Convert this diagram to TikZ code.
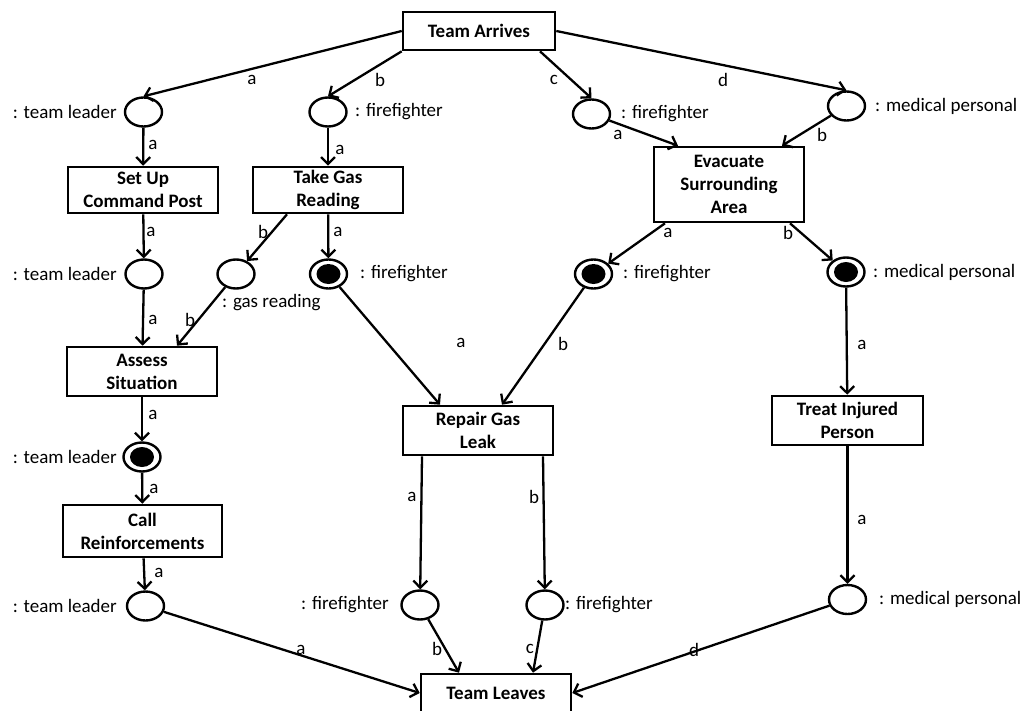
\documentclass[tikz,border=0pt]{standalone}
\usepackage{fontspec}
\setmainfont{Carlito}
\usetikzlibrary{arrows.meta,shapes.geometric,calc}
\begin{document}
\begin{tikzpicture}[x=1pt,y=-1pt,
  every node/.style={font=\fontsize{19}{23}\selectfont},
  trans/.style={draw, line width=2.6pt, minimum width=150pt, align=center, inner sep=2pt, font=\fontsize{19}{23}\selectfont\bfseries},
  place/.style={ellipse, draw, line width=2.4pt, minimum width=37pt, minimum height=29pt, inner sep=0pt},
  marked/.style={place, path picture={\fill (path picture bounding box.center) ellipse [x radius=12pt, y radius=10pt];}},
  arc/.style={line width=2.3pt, -{Straight Barb[length=7pt,width=14pt]}},
  lab/.style={inner sep=0pt},
  tag/.style={inner sep=0pt}
]
\clip (0,0) rectangle (1026,710);
\fill[white] (0,0) rectangle (1026,710);

% transitions
\node[trans, minimum width=152pt, minimum height=38pt] (ta) at (479,31) {Team Arrives};
\node[trans, minimum height=46pt] (su) at (143,190) {Set Up\\Command Post};
\node[trans, minimum height=46pt] (tg) at (328,190) {Take Gas\\Reading};
\node[trans, minimum height=75pt] (ev) at (729,184.5) {Evacuate\\Surrounding\\Area};
\node[trans, minimum height=49pt] (as) at (142,371.5) {Assess\\Situation};
\node[trans, minimum height=49pt] (rp) at (478,430.5) {Repair Gas\\Leak};
\node[trans, minimum width=151pt, minimum height=49pt] (ti) at (847.5,420.5) {Treat Injured\\Person};
\node[trans, minimum width=159pt, minimum height=52pt] (cr) at (142.5,531) {Call\\Reinforcements};
\node[trans, minimum height=38pt] (tlv) at (496,693) {Team Leaves};

% places
\node[place] (tl1) at (143.5,112) {};
\node[place] (ff1) at (328,112) {};
\node[place] (ff2) at (591.5,114) {};
\node[place] (mp1) at (846.5,106) {};
\node[place] (tl2) at (144,274) {};
\node[place] (gas) at (236,274) {};
\node[marked] (ff3) at (328.5,274) {};
\node[marked] (ff4) at (593.5,274) {};
\node[marked] (mp2) at (846,272) {};
\node[marked] (tl3) at (142,457) {};
\node[place] (tl4) at (145.5,606) {};
\node[place] (ff5) at (420,605) {};
\node[place] (ff6) at (545,605) {};
\node[place] (mp3) at (847.5,599.5) {};

% place labels
\node[tag, anchor=east] (tl1t) at (117,112) {: team leader};
\node[tag, anchor=west] (ff1t) at (355,112) {: firefighter};
\node[tag, anchor=west] (ff2t) at (621,114) {: firefighter};
\node[tag, anchor=west] (mp1t) at (875,106) {: medical personal};
\node[tag, anchor=east] (tl2t) at (117,274) {: team leader};
\node[tag, anchor=west] (gast) at (222,303) {: gas reading};
\node[tag, anchor=west] (ff3t) at (360,274) {: firefighter};
\node[tag, anchor=west] (ff4t) at (623,274) {: firefighter};
\node[tag, anchor=west] (mp2t) at (873,272) {: medical personal};
\node[tag, anchor=east] (tl3t) at (117,457) {: team leader};
\node[tag, anchor=east] (tl4t) at (117,606) {: team leader};
\node[tag, anchor=east] (ff5t) at (389,605) {: firefighter};
\node[tag, anchor=west] (ff6t) at (565,605) {: firefighter};
\node[tag, anchor=west] (mp3t) at (879,599.5) {: medical personal};

% arcs
\draw[arc] (ta.west) -- (tl1.north);
\draw[arc] (ta.south west) -- (ff1.north);
\draw[arc] ([xshift=61pt]ta.south) -- (ff2.north);
\draw[arc] (ta.east) -- (mp1.north);
\draw[arc] (tl1) -- (su);
\draw[arc] (ff1) -- (tg);
\draw[arc] (ff2) -- ([xshift=-51pt]ev.north);
\draw[arc] (mp1) -- ([xshift=53pt]ev.north);
\draw[arc] (su) -- (tl2);
\draw[arc] ([xshift=-41pt]tg.south) -- (gas);
\draw[arc] (tg) -- (ff3);
\draw[arc] (tl2) -- (as);
\draw[arc] (gas) -- ([xshift=35pt]as.north);
\draw[arc] ([xshift=-64pt]ev.south) -- (ff4);
\draw[arc] ([xshift=61pt]ev.south) -- (mp2);
\draw[arc] (ff3) -- ([xshift=-38pt]rp.north);
\draw[arc] (ff4) -- ([xshift=24pt]rp.north);
\draw[arc] (mp2) -- (ti);
\draw[arc] (as) -- (tl3);
\draw[arc] (tl3) -- (cr);
\draw[arc] (cr) -- (tl4);
\draw[arc] ([xshift=-56pt]rp.south) -- (ff5);
\draw[arc] ([xshift=65pt]rp.south) -- (ff6);
\draw[arc] (ti) -- (mp3);
\draw[arc] (tl4) -- (tlv.west);
\draw[arc] (ff5) -- ([xshift=-37pt]tlv.north);
\draw[arc] (ff6) -- ([xshift=37pt]tlv.north);
\draw[arc] (mp3) -- (tlv.east);

% arc inscriptions
\node[lab] (l1) at (252,80) {a};
\node[lab] (l2) at (380,80) {b};
\node[lab] (l3) at (554,80) {c};
\node[lab] (l4) at (723,80) {d};
\node[lab] (l5) at (153,145) {a};
\node[lab] (l6) at (340,150) {a};
\node[lab] (l7) at (618,135) {a};
\node[lab] (l8) at (822,135) {b};
\node[lab] (l9) at (151,232) {a};
\node[lab] (l10) at (263,232) {b};
\node[lab] (l11) at (338,232) {a};
\node[lab] (l12) at (668,233) {a};
\node[lab] (l13) at (788,233) {b};
\node[lab] (l14) at (153,320) {a};
\node[lab] (l15) at (190,320) {b};
\node[lab] (l16) at (461,343) {a};
\node[lab] (l17) at (563,344) {b};
\node[lab] (l18) at (862,345) {a};
\node[lab] (l19) at (153,415) {a};
\node[lab] (l20) at (154,489) {a};
\node[lab] (l21) at (159,573) {a};
\node[lab] (l22) at (412,497) {a};
\node[lab] (l23) at (534,497) {b};
\node[lab] (l24) at (862,520) {a};
\node[lab] (l25) at (301,650) {a};
\node[lab] (l26) at (437,649) {b};
\node[lab] (l27) at (530,649) {c};
\node[lab] (l28) at (694,650) {d};
\end{tikzpicture}
\end{document}
